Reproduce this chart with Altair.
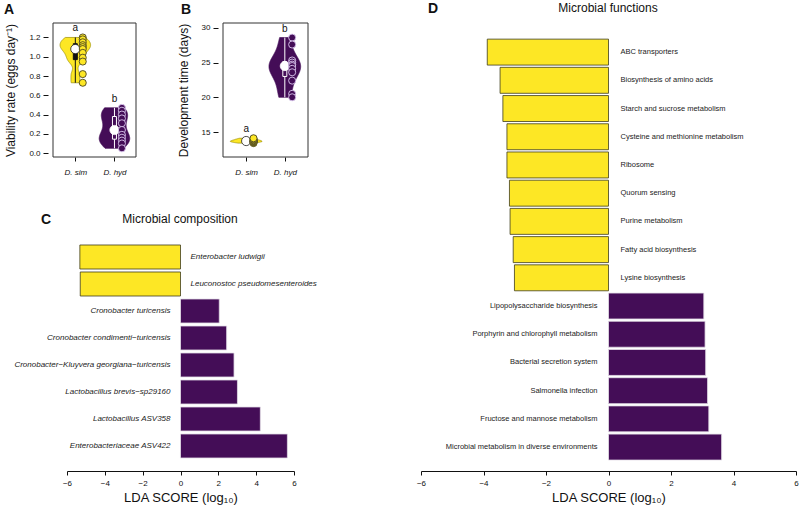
import altair as alt
import pandas as pd

# ---------------------------------------------------------------- data
species = ["D. sim", "D. hyd"]
sim_color = "#FDE725"
hyd_color = "#440D57"

# Panel A: viability rate (eggs per day)
viability_sim = [1.20, 1.18, 1.15, 1.12, 1.10, 1.08, 1.04, 0.99, 0.95, 0.82, 0.73]
viability_hyd = [0.47, 0.44, 0.40, 0.36, 0.31, 0.24, 0.19, 0.16, 0.13, 0.10, 0.05]
viability_letters = ["a", "b"]
viability_ticks = [0.0, 0.2, 0.4, 0.6, 0.8, 1.0, 1.2]

# Panel B: development time (days)
devtime_sim = [13.4, 13.5, 13.6, 13.6, 13.7, 13.7, 13.8, 13.9, 14.0, 14.1]
devtime_hyd = [28.6, 27.6, 25.3, 25.0, 24.7, 24.5, 24.1, 23.6, 22.4, 20.5, 20.0]
devtime_letters = ["a", "b"]
devtime_ticks = [15, 20, 25, 30]

# Panel C: LEfSe, microbial composition
comp_taxa = [
    "Enterobacter ludwigii",
    "Leuconostoc pseudomesenteroides",
    "Cronobacter turicensis",
    "Cronobacter condimenti\u2212turicensis",
    "Cronobacter\u2212Kluyvera georgiana\u2212turicensis",
    "Lactobacillus brevis\u2212sp29160",
    "Lactobacillus ASV358",
    "Enterobacteriaceae ASV422",
]
comp_lda = [-5.32, -5.30, 2.05, 2.44, 2.83, 3.01, 4.22, 5.65]

# Panel D: LEfSe, predicted microbial functions
func_pathways = [
    "ABC transporters",
    "Biosynthesis of amino acids",
    "Starch and sucrose metabolism",
    "Cysteine and methionine metabolism",
    "Ribosome",
    "Quorum sensing",
    "Purine metabolism",
    "Fatty acid biosynthesis",
    "Lysine biosynthesis",
    "Lipopolysaccharide biosynthesis",
    "Porphyrin and chlorophyll metabolism",
    "Bacterial secretion system",
    "Salmonella infection",
    "Fructose and mannose metabolism",
    "Microbial metabolism in diverse environments",
]
func_lda = [-3.88, -3.47, -3.38, -3.25, -3.25, -3.17, -3.15, -3.05, -3.01,
            3.05, 3.09, 3.11, 3.17, 3.21, 3.62]

lda_ticks = [-6, -4, -2, 0, 2, 4, 6]

# ---------------------------------------------------------------- layout
W, H = 800, 509
FONT = "Liberation Sans"
INK = "#111111"
LDA_AXIS_Y = 471


def violin_panel(sim_vals, hyd_vals, letters, xlim, ylim, xpix, ypix,
                 yticks, yformat, ytitle, bandwidths, half_width):
    rows = []
    for i, (sp, vals) in enumerate(zip(species, [sim_vals, hyd_vals])):
        rows += [{"species": sp, "idx": i + 1, "letter": letters[i], "value": v}
                 for v in vals]
    df = pd.DataFrame(rows)

    xs = alt.Scale(domain=list(xlim), range=list(xpix), nice=False, zero=False)
    ys = alt.Scale(domain=list(ylim), range=list(ypix), nice=False, zero=False)
    x_axis = alt.Axis(
        orient="bottom", offset=-(H - ypix[0]), values=[1, 2],
        labelExpr=f"datum.value == 1 ? '{species[0]}' : '{species[1]}'",
        domain=False, grid=False, tickSize=4, tickColor=INK,
        labelFontSize=8, labelFontStyle="italic", labelColor=INK,
        labelPadding=7, labelFlush=False, title=None,
    )
    y_axis = alt.Axis(
        orient="left", offset=-xpix[0], values=yticks, format=yformat,
        domain=False, grid=False, tickSize=5, tickColor=INK,
        labelFontSize=8, labelColor=INK, labelPadding=3, labelFlush=False,
        title=ytitle, titleFontSize=12, titleFontWeight="normal",
        titleColor=INK, titlePadding=11,
    )

    def X(field):
        return alt.X(field, type="quantitative", scale=xs, axis=x_axis)

    def Y(field):
        return alt.Y(field, type="quantitative", scale=ys, axis=y_axis)

    frame_df = pd.DataFrame({"x0": [xlim[0]], "x1": [xlim[1]],
                             "y0": [ylim[0]], "y1": [ylim[1]]})
    layers = [
        alt.Chart(frame_df)
        .mark_rect(fillOpacity=0, stroke="#333333", strokeWidth=1)
        .encode(x=X("x0"), x2="x1", y=Y("y0"), y2="y1")
    ]

    styles = [
        # fill, outline, centre line, box fill, dot outline, point outline
        (sim_color, "#9a8c00", "#111111", "#111111", "#222222", "#4a4520"),
        (hyd_color, hyd_color, "#ffffff", hyd_color, "#ffffff", "#dccaf0"),
    ]
    for i, sp in enumerate(species):
        fill, outline, mid, boxfill, dotline, ptline = styles[i]
        vals = df.loc[df.species == sp, "value"]
        base = alt.Chart(df).transform_filter(alt.datum.species == sp)
        k = i + 1
        violin = (
            base.transform_density(
                "value", as_=["value", "density"], bandwidth=bandwidths[i],
                extent=[float(vals.min()), float(vals.max())], steps=150)
            .transform_joinaggregate(peak="max(density)")
            .transform_calculate(
                left=f"{k} - {half_width} * datum.density / datum.peak",
                right=f"{k} + {half_width} * datum.density / datum.peak")
            .mark_area(orient="horizontal", fill=fill, stroke=outline,
                       strokeWidth=0.7)
            .encode(y=Y("value"), x=X("left"), x2="right")
        )
        whisker = (
            base.transform_aggregate(lo="min(value)", hi="max(value)",
                                     groupby=["idx"])
            .mark_rule(color=mid, strokeWidth=1)
            .encode(x=X("idx"), y=Y("lo"), y2="hi")
        )
        box = (
            base.transform_aggregate(q1="q1(value)", q3="q3(value)",
                                     groupby=["idx"])
            .mark_bar(orient="vertical", size=4, fill=boxfill, stroke=mid,
                      strokeWidth=1)
            .encode(x=X("idx"), y=Y("q1"), y2="q3")
        )
        dot = (
            base.transform_aggregate(med="median(value)", groupby=["idx"])
            .mark_point(shape="circle", filled=True, fill="white",
                        stroke=dotline, strokeWidth=0.8, size=85, opacity=1)
            .encode(x=X("idx"), y=Y("med"))
        )
        points = (
            base.transform_calculate(px="datum.idx + 0.19")
            .mark_point(shape="circle", filled=True, fill=fill, stroke=ptline,
                        strokeWidth=0.9, size=50, opacity=1)
            .encode(x=X("px"), y=Y("value"))
        )
        letter = (
            base.transform_aggregate(top="max(value)", groupby=["idx", "letter"])
            .mark_text(dy=-9, fontSize=10, color=INK)
            .encode(x=X("idx"), y=Y("top"), text="letter:N")
        )
        layers += [violin, whisker, box, dot, points, letter]
    return alt.layer(*layers)


def lda_panel(names, scores, xpix, ypix, pad, label_size, label_style, gap):
    df = pd.DataFrame({"feature": names, "lda": scores})
    xs = alt.Scale(domain=[lda_ticks[0], lda_ticks[-1]], range=list(xpix),
                   nice=False, zero=False)
    ys = alt.Scale(domain=names, range=list(ypix), paddingInner=pad,
                   paddingOuter=pad / 2)
    x_axis = alt.Axis(
        orient="bottom", offset=-(H - LDA_AXIS_Y), values=lda_ticks,
        domain=True, domainColor=INK, domainWidth=1, grid=False,
        tickSize=4, tickColor=INK, labelFontSize=8, labelColor=INK,
        labelPadding=4, labelFlush=False,
        title="LDA SCORE (log\u2081\u2080)", titleFontSize=13,
        titleFontWeight="normal", titleColor=INK, titlePadding=4,
    )
    y = alt.Y("feature:N", scale=ys, axis=None)

    def bars(cond, fill, stroke):
        return (
            alt.Chart(df).transform_filter(cond)
            .mark_bar(fill=fill, stroke=stroke, strokeWidth=0.8)
            .encode(x=alt.X("lda:Q", scale=xs, axis=x_axis), y=y)
        )

    def labels(cond, align, dx):
        return (
            alt.Chart(df).transform_filter(cond).transform_calculate(zero="0")
            .mark_text(align=align, dx=dx, fontSize=label_size,
                       fontStyle=label_style, color="#222222")
            .encode(x=alt.X("zero:Q", scale=xs, axis=x_axis), y=y,
                    text="feature:N")
        )

    return alt.layer(
        bars("datum.lda < 0", sim_color, "#3f3c1c"),
        bars("datum.lda > 0", hyd_color, "#e4dfe8"),
        labels("datum.lda < 0", "left", gap[0]),
        labels("datum.lda > 0", "right", -gap[1]),
    )


def note(text, x, y, size, weight="normal"):
    return (
        alt.Chart(pd.DataFrame({"t": [text]}))
        .mark_text(x=x, y=y, fontSize=size, fontWeight=weight, color=INK)
        .encode(text="t:N")
    )


panel_a = violin_panel(
    viability_sim, viability_hyd, viability_letters,
    xlim=(0.43, 2.55), ylim=(-0.04, 1.35), xpix=(48, 141), ypix=(157, 23),
    yticks=viability_ticks, yformat=".1f",
    ytitle="Viability rate (eggs day\u207b\u00b9)",
    bandwidths=[0.045, 0.07], half_width=0.39,
)
panel_b = violin_panel(
    devtime_sim, devtime_hyd, devtime_letters,
    xlim=(0.4, 2.6), ylim=(11.4, 30.7), xpix=(218, 313), ypix=(157, 23),
    yticks=devtime_ticks, yformat="d", ytitle="Development time (days)",
    bandwidths=[0.15, 1.5], half_width=0.41,
)
panel_c = lda_panel(comp_taxa, comp_lda, xpix=(67, 294), ypix=(243.5, 459.5),
                    pad=0.11, label_size=8, label_style="italic", gap=(10, 10))
panel_d = lda_panel(func_pathways, func_lda, xpix=(421, 796),
                    ypix=(38, 461.2), pad=0.08, label_size=7.5,
                    label_style="normal", gap=(12, 11))

annotations = [
    note("A", 9, 10, 14, "bold"),
    note("B", 186, 10, 14, "bold"),
    note("C", 46, 220, 14, "bold"),
    note("D", 433, 9, 14, "bold"),
    note("Microbial composition", 180, 219, 12),
    note("Microbial functions", 608, 8, 12),
]

chart = (
    alt.layer(panel_a, panel_b, panel_c, panel_d, *annotations)
    .resolve_scale(x="independent", y="independent")
    .resolve_axis(x="independent", y="independent")
    .properties(width=W, height=H, padding=0,
                autosize=alt.AutoSizeParams(type="none"),
                background="white")
    .configure(font=FONT)
    .configure_view(strokeWidth=0)
)

chart.save("out.html", embed_options={"renderer": "svg", "actions": False})
